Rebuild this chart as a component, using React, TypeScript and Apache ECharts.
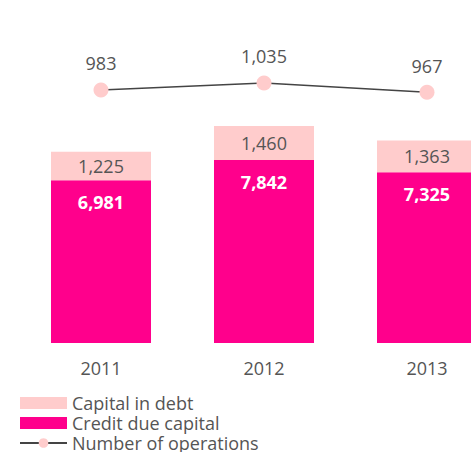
import React, { useEffect, useRef } from "react";
import * as echarts from "echarts";

const categories = ["2011", "2012", "2013"];
const capitalInDebt = [1225, 1460, 1363];
const creditDueCapital = [6981, 7842, 7325];
const numberOfOperations = [983, 1035, 967];

const FONT = "'Open Sans', 'Liberation Sans', sans-serif";
const GRAY = "#555555";

export default function App() {
  const ref = useRef<HTMLDivElement>(null);
  useEffect(() => {
    if (!ref.current) return;
    const chart = echarts.init(ref.current, null, { renderer: "svg" });
    const fmt = (p: any) => Number(p.value).toLocaleString("en-US");
    chart.setOption({
      animation: false,
      textStyle: { fontFamily: FONT },
      grid: { left: 19.5, width: 489, top: 20, height: 323, outerBoundsMode: "none", containLabel: false },
      legend: {
        orient: "vertical",
        left: 14,
        top: 388,
        itemWidth: 47,
        itemHeight: 12,
        itemGap: 0,
        data: [
          { name: "Capital in debt", icon: "rect" },
          { name: "Credit due capital", icon: "rect" },
          { name: "Number of operations" },
        ],
        textStyle: { fontFamily: FONT, fontSize: 18, color: GRAY, lineHeight: 20 },
      },
      xAxis: {
        type: "category",
        data: categories,
        axisLine: { show: false },
        axisTick: { show: false },
        axisLabel: { fontSize: 18, color: GRAY, margin: 16, fontFamily: FONT },
      },
      yAxis: [
        { type: "value", min: 0, max: 13850, show: false },
        { type: "value", min: -897, max: 1503, show: false },
      ],
      series: [
        {
          name: "Credit due capital",
          type: "bar",
          stack: "total",
          barWidth: 100,
          data: creditDueCapital,
          itemStyle: { color: "#FF008C" },
          label: {
            show: true,
            position: "insideTop",
            distance: 13,
            formatter: fmt,
            color: "#ffffff",
            fontWeight: "bold",
            fontSize: 18,
            fontFamily: FONT,
          },
        },
        {
          name: "Capital in debt",
          type: "bar",
          stack: "total",
          barWidth: 100,
          data: capitalInDebt,
          itemStyle: { color: "#FFCCCC" },
          label: {
            show: true,
            position: "inside",
            formatter: fmt,
            color: GRAY,
            fontSize: 18,
            fontFamily: FONT,
          },
        },
        {
          name: "Number of operations",
          type: "line",
          yAxisIndex: 1,
          data: numberOfOperations,
          symbol: "circle",
          symbolSize: 15,
          lineStyle: { color: "#444444", width: 1.5 },
          itemStyle: { color: "#FFCCCC" },
          label: {
            show: true,
            position: "top",
            distance: 10,
            formatter: fmt,
            color: GRAY,
            fontSize: 18,
            fontFamily: FONT,
          },
        },
      ],
    });
    return () => chart.dispose();
  }, []);
  return (
    <div
      style={{ position: "absolute", left: 0, top: 0, width: 471, height: 452, overflow: "hidden", background: "#fff" }}
    >
      <div ref={ref} style={{ width: 530, height: 480 }} />
    </div>
  );
}
